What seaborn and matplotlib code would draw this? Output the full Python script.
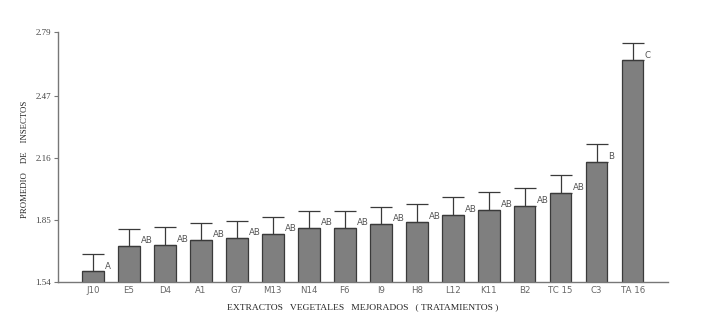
import matplotlib
matplotlib.use('Agg')
import matplotlib.pyplot as plt
import seaborn as sns
import pandas as pd

# tratamientos y promedios
tratamientos = ['J10', 'E5', 'D4', 'A1', 'G7', 'M13', 'N14', 'F6', 'I9',
                'H8', 'L12', 'K11', 'B2', 'TC 15', 'C3', 'TA 16']
promedio = [1.594, 1.72, 1.727, 1.75, 1.76, 1.78, 1.81, 1.81, 1.83,
            1.84, 1.875, 1.90, 1.92, 1.985, 2.14, 2.65]
error_sup = [0.086, 0.087, 0.087, 0.085, 0.085, 0.085, 0.085, 0.085, 0.087,
             0.088, 0.088, 0.09, 0.09, 0.088, 0.09, 0.087]
letras = ['A', 'AB', 'AB', 'AB', 'AB', 'AB', 'AB', 'AB', 'AB',
          'AB', 'AB', 'AB', 'AB', 'AB', 'B', 'C']
yticks = [1.54, 1.85, 2.16, 2.47, 2.79]

df = pd.DataFrame({'trat': tratamientos, 'prom': promedio})

sns.set_style('white')
fig = plt.figure(figsize=(7.17, 3.34), dpi=100)
ax = fig.add_axes([0.081, 0.156, 0.851, 0.748])

sns.barplot(data=df, x='trat', y='prom', color='#7f7f7f', saturation=1,
            width=0.6, edgecolor='#3a3a3a', linewidth=0.9, ax=ax)

# solo la barra de error superior
xs = range(len(tratamientos))
ax.errorbar(list(xs), promedio, yerr=[[0] * len(promedio), error_sup],
            fmt='none', ecolor='#3a3a3a', elinewidth=0.9, capsize=8.2,
            capthick=0.9)

for i, (v, l) in enumerate(zip(promedio, letras)):
    ax.text(i + 0.33, v + 0.025, l, fontsize=6.2, color='#555555',
            ha='left', va='center', family='DejaVu Sans')

ax.set_ylim(1.54, 2.79)
ax.set_xlim(-0.97, 15.99)
ax.set_yticks(yticks)
ax.set_yticklabels(['%.2f' % t for t in yticks], family='Liberation Serif',
                   fontsize=6.5, color='#444444')
ax.tick_params(axis='y', length=3, width=0.8, color='#777777', pad=2, left=True)
ax.tick_params(axis='x', length=0, labelsize=6.2, labelcolor='#666666', pad=3)

for s in ['top', 'right']:
    ax.spines[s].set_visible(False)
for s in ['left', 'bottom']:
    ax.spines[s].set_color('#777777')
    ax.spines[s].set_linewidth(1.0)

ax.set_xlabel('EXTRACTOS   VEGETALES   MEJORADOS   ( TRATAMIENTOS )',
              family='Liberation Serif', fontsize=6.8, labelpad=6)
ax.set_ylabel('PROMEDIO    DE    INSECTOS', family='Liberation Serif',
              fontsize=6.3, labelpad=4)
ax.yaxis.set_label_coords(-0.047, 0.49)

fig.savefig('out.png', dpi=100)
